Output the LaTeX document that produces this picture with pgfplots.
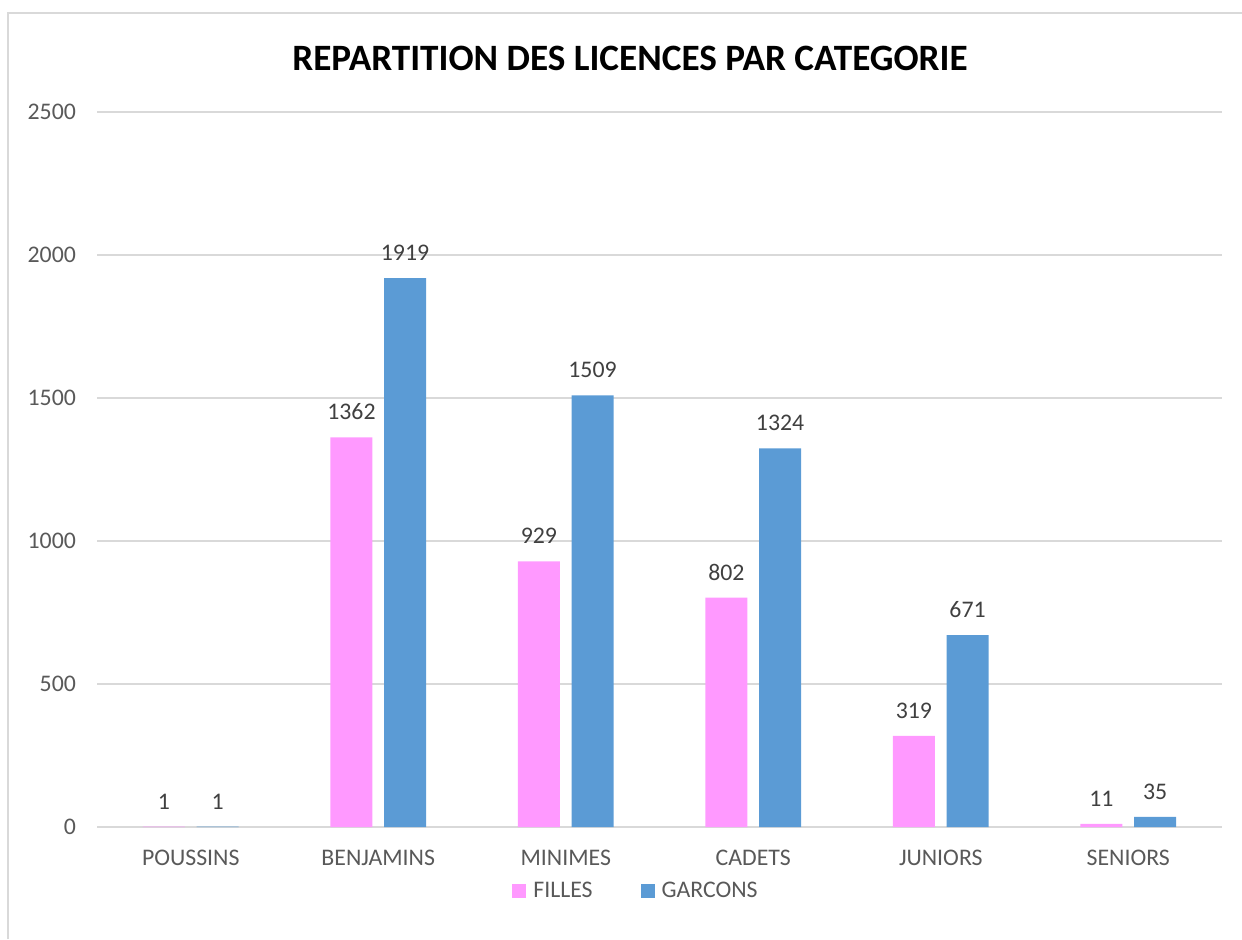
\documentclass[border=0pt]{standalone}
\usepackage{fontspec}
\setmainfont{Carlito}
\usepackage{pgfplots}
\pgfplotsset{compat=1.18}
\definecolor{fille}{HTML}{FF99FF}
\definecolor{garcon}{HTML}{5B9BD5}
\definecolor{gridc}{HTML}{D9D9D9}
\definecolor{ticktxt}{HTML}{595959}
\definecolor{labtxt}{HTML}{404040}

\begin{document}
\begin{tikzpicture}
% 1 px of the reference = 0.5pt
\useasboundingbox (0,0) rectangle (621pt,469.5pt);
\draw[gridc, line width=1pt] (4pt,0) -- (4pt,463pt) -- (621pt,463pt);
\node[font=\fontsize{18.6}{22}\selectfont\bfseries] at (315pt,440.5pt)
  {REPARTITION DES LICENCES PAR CATEGORIE};

\begin{axis}[
  at={(48.5pt,56pt)}, anchor=south west,
  scale only axis,
  width=562.5pt, height=357.5pt,
  ybar,
  bar width=21pt,
  xmin=-0.5, xmax=5.5,
  ymin=0, ymax=2500,
  ytick={0,500,1000,1500,2000,2500},
  xtick={0,1,2,3,4,5},
  xticklabels={POUSSINS,BENJAMINS,MINIMES,CADETS,JUNIORS,SENIORS},
  ymajorgrids,
  grid style={gridc, line width=0.9pt},
  axis line style={draw=none},
  major tick length=0pt,
  /pgf/number format/assume math mode=true,
  /pgf/number format/set thousands separator={},
  ticklabel style={font=\fontsize{11.9}{14}\selectfont, text=ticktxt},
  xticklabel style={yshift=-8pt},
  yticklabel style={xshift=-7pt},
  nodes near coords,
  nodes near coords style={font=\fontsize{11.9}{14}\selectfont, text=labtxt,
    anchor=south, inner sep=0pt, yshift=8.5pt,
    /pgf/number format/assume math mode=true},
  legend columns=2,
  legend image code/.code={\fill[#1] (0pt,-3.5pt) rectangle (7pt,3.5pt);},
  legend style={draw=none, fill=none, font=\fontsize{11.9}{14}\selectfont,
    text=ticktxt, at={(0.48,-0.0895)}, anchor=center,
    /tikz/every odd column/.append style={column sep=1.5pt},
    /tikz/every even column/.append style={column sep=22pt}},
]
\addplot[fill=fille, draw=none, bar shift=-13.4pt] coordinates {
  (0,1) (1,1362) (2,929) (3,802) (4,319) (5,11)
};
\addlegendentry{FILLES}
\addplot[fill=garcon, draw=none, bar shift=13.4pt] coordinates {
  (0,1) (1,1919) (2,1509) (3,1324) (4,671) (5,35)
};
\addlegendentry{GARCONS}
\end{axis}
\end{tikzpicture}
\end{document}
